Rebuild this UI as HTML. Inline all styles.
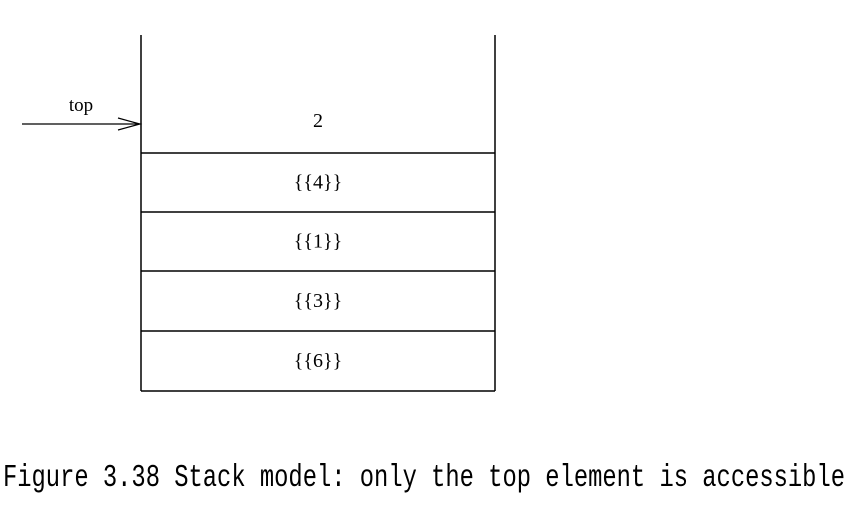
<!DOCTYPE html>
<html><head><meta charset="utf-8"><style>
html,body{margin:0;padding:0;background:#fff;width:851px;height:515px;overflow:hidden}
svg{display:block}
</style></head><body>
<svg width="851" height="515">
<g id="stack" stroke="#000" stroke-width="1.5" fill="none">
<line x1="141" y1="35" x2="141" y2="391"/>
<line x1="495" y1="35" x2="495" y2="391"/>
</g>
<g id="items" font-family="Liberation Serif, serif" font-size="20" text-anchor="middle"></g>
<g>
<line x1="22" y1="124" x2="139" y2="124" stroke="#000" stroke-width="1.3"/>
<path d="M118,118 L140,124 L118,130" stroke="#000" stroke-width="1.2" fill="none"/>
<text x="81" y="111" font-family="Liberation Serif, serif" font-size="19" text-anchor="middle">top</text>
</g>
<g transform="translate(0,486) scale(1,1.25)">
<text x="3" y="0" font-family="Liberation Mono, monospace" font-size="25" textLength="842" lengthAdjust="spacingAndGlyphs">Figure 3.38 Stack model: only the top element is accessible</text>
</g>
</svg>
<script>
const items = ["2", "{{4}}", "{{1}}", "{{3}}", "{{6}}"];
const rowBottoms = [153, 212, 271, 331, 391];
const rowTops = [95, 153, 212, 271, 331];
const NS = "http://www.w3.org/2000/svg";
const stack = document.getElementById('stack');
const g = document.getElementById('items');
items.forEach((v, i) => {
  const ln = document.createElementNS(NS, 'line');
  ln.setAttribute('x1', 141); ln.setAttribute('x2', 495);
  ln.setAttribute('y1', rowBottoms[i]); ln.setAttribute('y2', rowBottoms[i]);
  
  
  stack.appendChild(ln);
  const t = document.createElementNS(NS, 'text');
  t.setAttribute('x', 318);
  t.setAttribute('y', (rowTops[i] + rowBottoms[i]) / 2 + 6 + (i === 0 ? -3 : 0));
  t.textContent = v;
  
  
  g.appendChild(t);
});
</script>
</body></html>
